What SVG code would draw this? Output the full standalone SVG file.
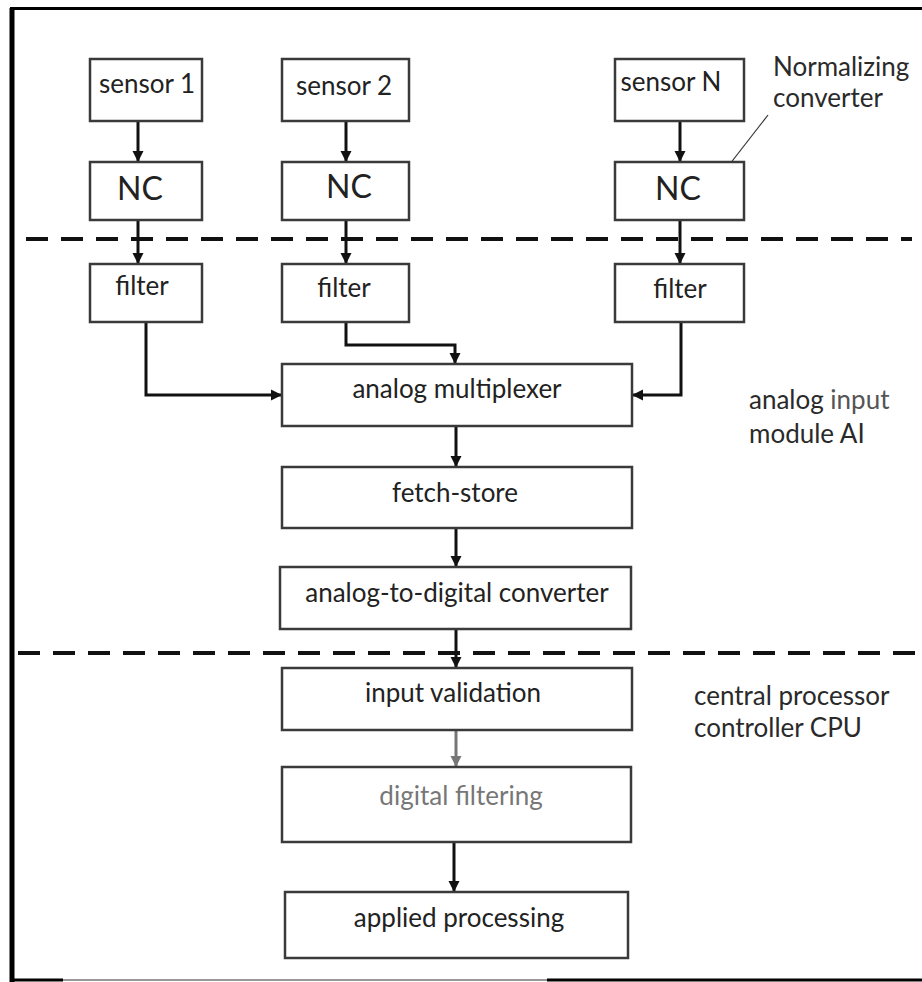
<svg xmlns="http://www.w3.org/2000/svg" width="922" height="982" viewBox="0 0 922 982">
<style>
.box{fill:#fff;stroke:#3a3a3a;stroke-width:2.5}
.t{font-family:Lato,"Open Sans","Liberation Sans",sans-serif;font-size:26px;fill:#222;text-anchor:middle}
.nc{font-size:32px}
.side{font-family:Lato,"Open Sans","Liberation Sans",sans-serif;font-size:26px;fill:#2a2a2a}
.c{fill:none;stroke:#111;stroke-width:3}
.dash{fill:none;stroke:#111;stroke-width:4;stroke-dasharray:22 13}
</style>
<defs>
<marker id="ah" viewBox="0 0 10 10" refX="10" refY="5" markerWidth="11" markerHeight="12" markerUnits="userSpaceOnUse" orient="auto">
<path d="M0,0 L10,5 L0,10 z" fill="#111"/>
</marker>
<marker id="ahg" viewBox="0 0 10 10" refX="10" refY="5" markerWidth="11" markerHeight="12" markerUnits="userSpaceOnUse" orient="auto">
<path d="M0,0 L10,5 L0,10 z" fill="#777"/>
</marker>
</defs>
<rect width="922" height="982" fill="#fff"/>
<g id="frame">
<line x1="12" y1="8" x2="12" y2="982" stroke="#000" stroke-width="5"/>
<line x1="10" y1="8.5" x2="922" y2="8.5" stroke="#000" stroke-width="3"/>
<line x1="10" y1="980" x2="63" y2="980" stroke="#000" stroke-width="3"/>
<line x1="63" y1="980" x2="547" y2="980" stroke="#999" stroke-width="2"/>
<line x1="547" y1="980" x2="922" y2="980" stroke="#000" stroke-width="3"/>
</g>
<g id="boundaries">
<line class="dash" x1="26" y1="239" x2="912" y2="239"/>
<line class="dash" x1="18" y1="653" x2="922" y2="653"/>
</g>
<g id="connectors">
<line class="c" x1="138" y1="121" x2="138" y2="162" marker-end="url(#ah)"/>
<line class="c" x1="346" y1="121" x2="346" y2="162" marker-end="url(#ah)"/>
<line class="c" x1="680" y1="121" x2="680" y2="162" marker-end="url(#ah)"/>
<line class="c" x1="138" y1="220" x2="138" y2="264" marker-end="url(#ah)"/>
<line class="c" x1="346" y1="220" x2="346" y2="264" marker-end="url(#ah)"/>
<line class="c" x1="680" y1="220" x2="680" y2="264" marker-end="url(#ah)"/>
<path class="c" d="M146,322 V395 H282" marker-end="url(#ah)" stroke-width="3.5"/>
<path class="c" d="M346,322 V345 H455 V364" marker-end="url(#ah)" stroke-width="3.5"/>
<path class="c" d="M681,322 V395 H632" marker-end="url(#ah)" stroke-width="3.5"/>
<line class="c" x1="456" y1="426" x2="456" y2="467" marker-end="url(#ah)"/>
<line class="c" x1="456" y1="528" x2="456" y2="567" marker-end="url(#ah)"/>
<line class="c" x1="456" y1="629" x2="456" y2="668" marker-end="url(#ah)"/>
<line class="c" x1="456" y1="730" x2="456" y2="767" marker-end="url(#ahg)" style="stroke:#777"/>
<line class="c" x1="454" y1="842" x2="454" y2="892" marker-end="url(#ah)"/>
<line x1="597" y1="365" x2="625" y2="365" stroke="#111" stroke-width="3.5"/>
<line x1="768" y1="115" x2="712" y2="187" stroke="#333" stroke-width="1.2"/>
</g>
<g id="sensor1"><rect class="box" x="90" y="59" width="112" height="62"/><text class="t" x="147" y="93">sensor 1</text></g>
<g id="sensor2"><rect class="box" x="282" y="59" width="127" height="62"/><text class="t" x="344" y="95">sensor 2</text></g>
<g id="sensorN"><rect class="box" x="615" y="59" width="129" height="62"/><text class="t" x="671" y="91">sensor N</text></g>
<g id="nc1"><rect class="box" x="90" y="162" width="112" height="58"/><text class="t nc" x="140" y="200">NC</text></g>
<g id="nc2"><rect class="box" x="282" y="162" width="127" height="58"/><text class="t nc" x="349" y="198">NC</text></g>
<g id="ncN"><rect class="box" x="615" y="162" width="129" height="58"/><text class="t nc" x="678" y="200">NC</text></g>
<g id="filter1"><rect class="box" x="90" y="264" width="112" height="58"/><text class="t" x="142" y="295">filter</text></g>
<g id="filter2"><rect class="box" x="282" y="264" width="127" height="58"/><text class="t" x="344" y="297">filter</text></g>
<g id="filterN"><rect class="box" x="615" y="264" width="129" height="58"/><text class="t" x="680" y="298">filter</text></g>
<g id="mux"><rect class="box" x="282" y="364" width="350" height="62"/><text class="t" x="457" y="398">analog multiplexer</text></g>
<g id="fetch"><rect class="box" x="282" y="467" width="350" height="61"/><text class="t" x="455" y="502">fetch-store</text></g>
<g id="adc"><rect class="box" x="280" y="567" width="351" height="62"/><text class="t" x="457" y="602">analog-to-digital converter</text></g>
<g id="validation"><rect class="box" x="282" y="668" width="350" height="62"/><text class="t" x="453" y="702">input validation</text></g>
<g id="digital"><rect class="box" x="282" y="767" width="349" height="75"/><text class="t" x="461" y="805" style="fill:#777">digital filtering</text></g>
<g id="applied"><rect class="box" x="285" y="892" width="343" height="66"/><text class="t" x="459" y="927">applied processing</text></g>
<g id="labels">
<text class="side" x="773" y="76">Normalizing</text>
<text class="side" x="773" y="107">converter</text>
<text class="side" x="749" y="409">analog <tspan fill="#555">input</tspan></text>
<text class="side" x="749" y="443" fill="#888">module AI</text>
<text class="side" x="694" y="705">central processor</text>
<text class="side" x="694" y="737">controller CPU</text>
</g>
</svg>
